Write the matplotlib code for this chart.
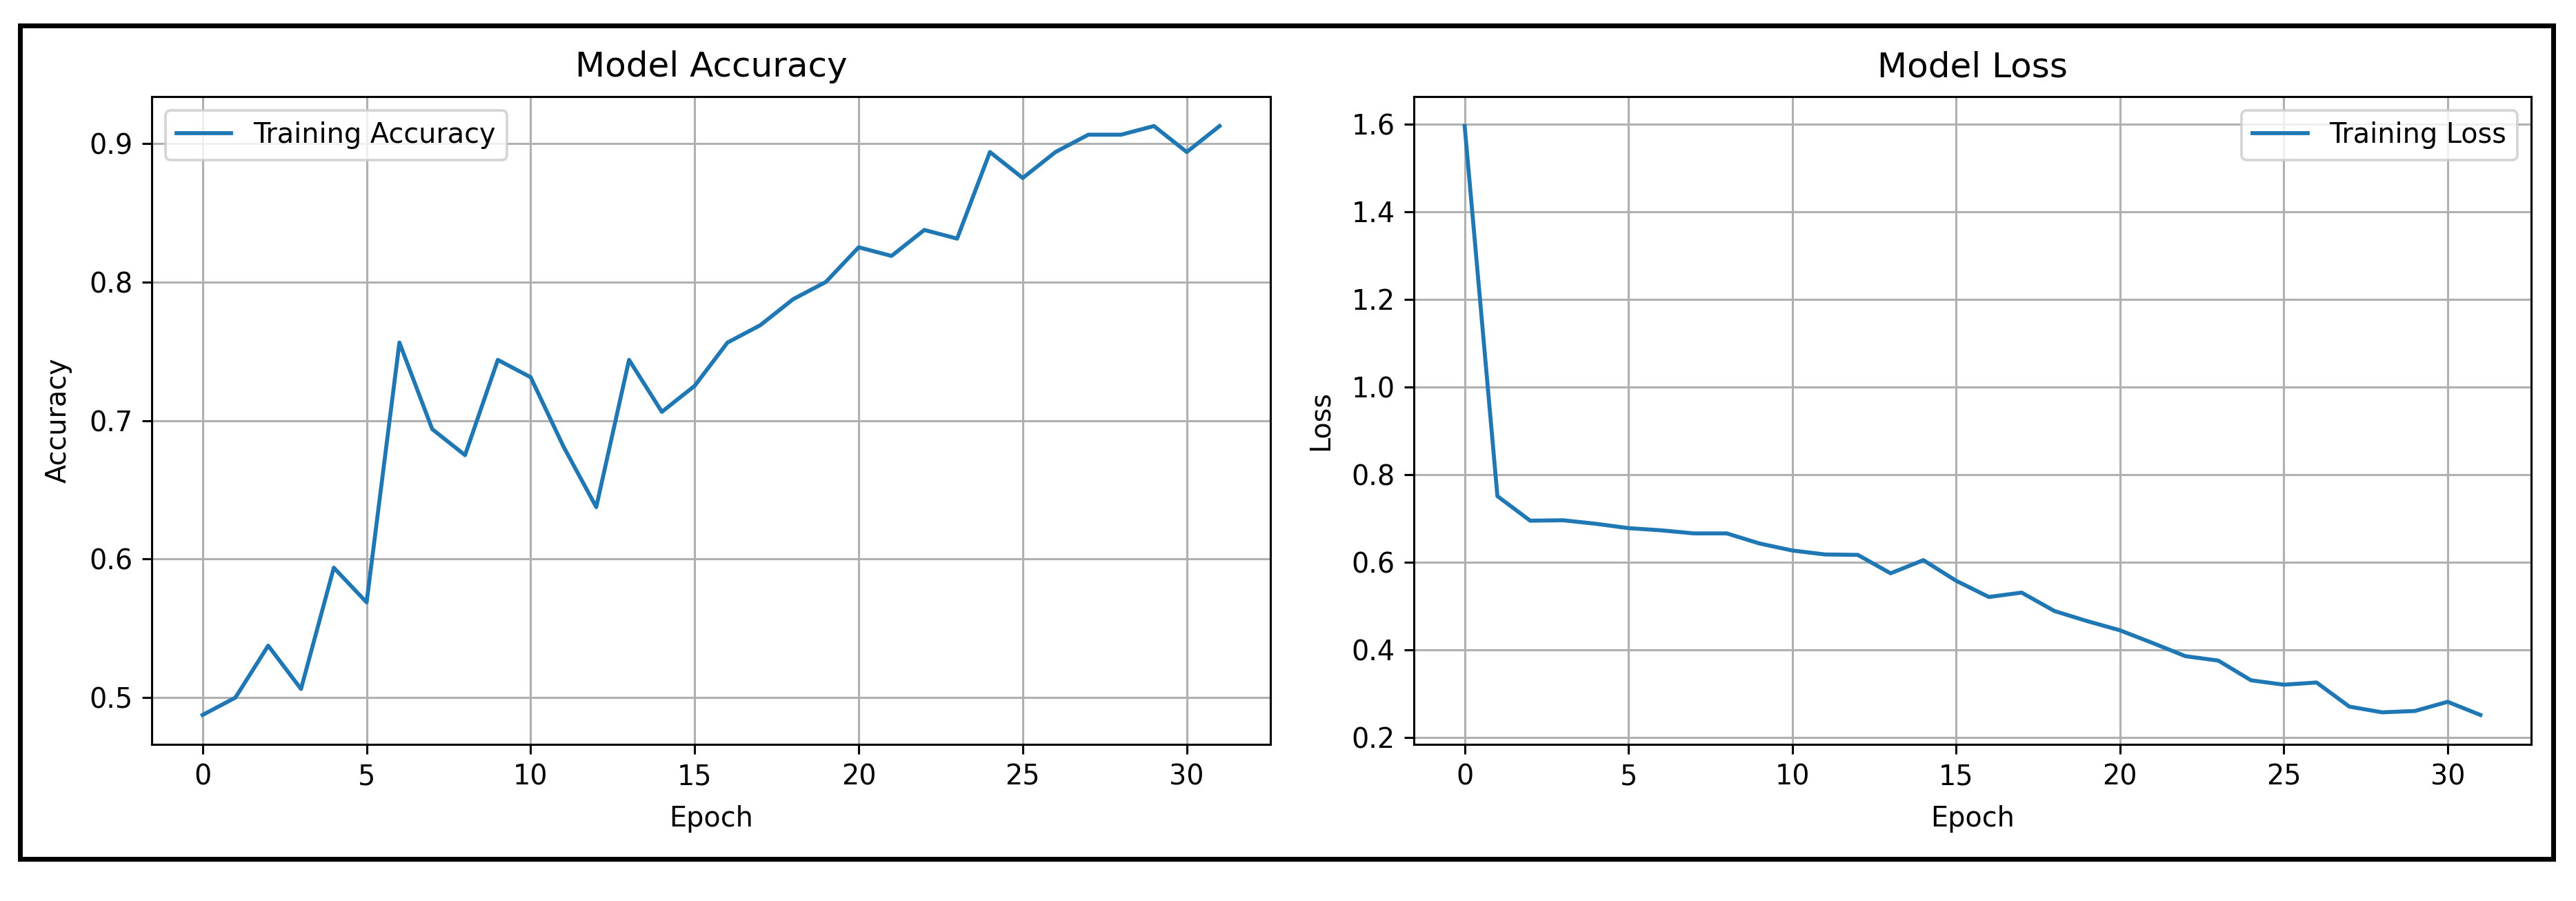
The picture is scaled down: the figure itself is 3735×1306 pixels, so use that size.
import matplotlib
matplotlib.use("Agg")
import matplotlib.pyplot as plt
from matplotlib.patches import Rectangle

# ---- data ----
epochs = list(range(32))
train_accuracy = [0.4875, 0.5000, 0.5375, 0.50625, 0.59375, 0.56875, 0.75625, 0.69375,
                  0.6750, 0.74375, 0.73125, 0.68125, 0.6375, 0.74375, 0.70625, 0.7250,
                  0.75625, 0.76875, 0.7875, 0.8000, 0.8250, 0.81875, 0.8375, 0.83125,
                  0.89375, 0.8750, 0.89375, 0.90625, 0.90625, 0.9125, 0.89375, 0.9125]
train_loss = [1.595, 0.751, 0.695, 0.696, 0.688, 0.678, 0.673, 0.666,
              0.666, 0.643, 0.627, 0.618, 0.617, 0.575, 0.605, 0.558,
              0.521, 0.531, 0.489, 0.466, 0.445, 0.416, 0.386, 0.376,
              0.331, 0.321, 0.326, 0.271, 0.258, 0.261, 0.282, 0.252]
titles = ["Model Accuracy", "Model Loss"]
ylabels = ["Accuracy", "Loss"]
legend_labels = ["Training Accuracy", "Training Loss"]

W, H = 3735, 1306
S = 2.78  # scale of points relative to a dpi-100 canvas

plt.rcParams.update({
    "font.family": "DejaVu Sans",
    "font.size": 10.3 * S,
    "lines.linewidth": 1.5 * S,
    "axes.linewidth": 0.8 * S,
    "grid.linewidth": 0.8 * S,
    "patch.linewidth": 1.0 * S,
    "xtick.major.size": 3.5 * S,
    "ytick.major.size": 3.5 * S,
    "xtick.major.width": 0.8 * S,
    "ytick.major.width": 0.8 * S,
    "xtick.major.pad": 3.5 * S,
    "ytick.major.pad": 3.5 * S,
    "axes.titlepad": 7.5 * S,
    "axes.titlesize": 13 * S,
})

fig = plt.figure(figsize=(W / 100, H / 100), dpi=100)
bottom = (H - 1079) / H
height = 939 / H
ax1 = fig.add_axes([220 / W, bottom, 1622 / W, height])
ax2 = fig.add_axes([2050 / W, bottom, 1620 / W, height])

ax1.plot(epochs, train_accuracy, color="#1f77b4", label=legend_labels[0])
ax2.plot(epochs, train_loss, color="#1f77b4", label=legend_labels[1])

for ax, t, yl, loc in zip([ax1, ax2], titles, ylabels, ["upper left", "upper right"]):
    ax.set_title(t)
    ax.set_xlabel("Epoch", labelpad=5.5 * S)
    ax.set_ylabel(yl, labelpad=6.5 * S)
    ax.grid(True)
    ax.legend(loc=loc)

ax1.set_yticks([0.5, 0.6, 0.7, 0.8, 0.9])
ax2.set_yticks([0.2, 0.4, 0.6, 0.8, 1.0, 1.2, 1.4, 1.6])

# outer black frame
fig.patches.append(Rectangle((28.5 / W, (H - 1245) / H), (3701.5 - 28.5) / W, (1245 - 36.5) / H,
                             transform=fig.transFigure, fill=False, edgecolor="black",
                             linewidth=7 * 0.72, zorder=10))

fig.savefig("out.png", dpi=100)
